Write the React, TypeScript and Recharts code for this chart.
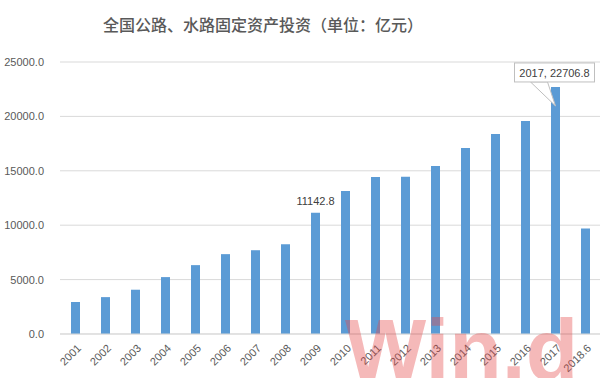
import React from "react";
import {
  BarChart,
  Bar,
  XAxis,
  YAxis,
  CartesianGrid,
  LabelList,
} from "recharts";

const years = [
  "2001", "2002", "2003", "2004", "2005", "2006", "2007", "2008", "2009",
  "2010", "2011", "2012", "2013", "2014", "2015", "2016", "2017", "2018.6",
];

const investment = [
  2940, 3390, 4070, 5230, 6330, 7340, 7700, 8260, 11142.8,
  13140, 14430, 14450, 15440, 17100, 18380, 19580, 22706.8, 9700,
];

const yTicks = [0, 5000, 10000, 15000, 20000, 25000];

const data = years.map((name, i) => ({ name, value: investment[i] }));

const axisFont = "'Liberation Sans', Arial, sans-serif";

const XTick = (props: any) => {
  const { x, y, payload } = props;
  return (
    <g transform={`translate(${x + 4},${y + 4})`}>
      <text
        transform="rotate(-45)"
        textAnchor="end"
        fontSize={11}
        fill="#595959"
        fontFamily={axisFont}
        dy={4}
      >
        {payload.value}
      </text>
    </g>
  );
};

const renderLabel = (props: any) => {
  const { x, y, width, index, value } = props;
  const cx = x + width / 2;
  if (index === 8) {
    return (
      <text
        x={cx}
        y={y - 8}
        textAnchor="middle"
        fontSize={11}
        fill="#404040"
        fontFamily={axisFont}
      >
        {value}
      </text>
    );
  }
  if (index === 16) {
    const left = cx - 41;
    const top = y - 24;
    const bottom = y - 5;
    return (
      <g>
        <polygon
          points={`${cx - 25},${bottom} ${cx - 8},${bottom} ${cx},${y + 19}`}
          fill="#fff"
          stroke="#bfbfbf"
          strokeWidth={1}
        />
        <rect x={left} y={top} width={80} height={19} fill="#fff" stroke="#bfbfbf" />
        <text
          x={left + 40}
          y={top + 14}
          textAnchor="middle"
          fontSize={11}
          fill="#404040"
          fontFamily={axisFont}
        >
          {`${years[index]}, ${value}`}
        </text>
      </g>
    );
  }
  return null;
};

export default function App() {
  return (
    <div
      style={{
        position: "fixed",
        top: 0,
        left: 0,
        width: 608,
        height: 378,
        overflow: "hidden",
        background: "#fff",
      }}
    >
      <div
        style={{
          position: "absolute",
          top: 12,
          left: 103,
          fontSize: 16,
          fontWeight: 500,
          color: "#595959",
          fontFamily: "'Noto Sans CJK SC', sans-serif",
          whiteSpace: "nowrap",
        }}
      >
        全国公路、水路固定资产投资（单位：亿元）
      </div>
      <BarChart
        width={608}
        height={378}
        data={data}
        margin={{ top: 62, right: 8, bottom: 4, left: 0 }}
        barCategoryGap={10}
      >
        <CartesianGrid vertical={false} stroke="#d9d9d9" />
        <XAxis
          dataKey="name"
          interval={0}
          tickLine={false}
          axisLine={{ stroke: "#d9d9d9" }}
          height={40}
          tick={<XTick />}
        />
        <YAxis
          domain={[0, 25000]}
          ticks={yTicks}
          width={60}
          axisLine={false}
          tickLine={false}
          tickFormatter={(v: number) => v.toFixed(1)}
          tick={{ fontSize: 11, fill: "#595959", fontFamily: axisFont }}
          tickMargin={10}
        />
        <Bar dataKey="value" fill="#5b9bd5" barSize={9} isAnimationActive={false}>
          <LabelList dataKey="value" content={renderLabel} />
        </Bar>
      </BarChart>
      <svg
        width={608}
        height={378}
        style={{ position: "absolute", top: 0, left: 0, pointerEvents: "none" }}
      >
        <text
          x={345}
          y={379}
          fontSize={86}
          fontWeight="bold"
          fontFamily={axisFont}
          fill="rgb(228,70,70)"
          fillOpacity={0.38}
        >
          Win.d
        </text>
      </svg>
    </div>
  );
}
